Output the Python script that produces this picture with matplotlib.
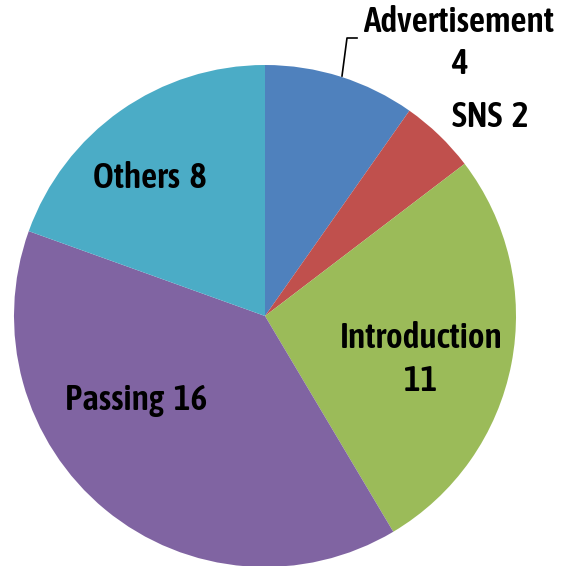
import matplotlib.pyplot as plt
from matplotlib import font_manager

# survey: how did you learn about it
labels = ['Advertisement', 'SNS', 'Introduction', 'Passing', 'Others']
values = [4, 2, 11, 16, 8]
colors = ['#4F81BD', '#C0504D', '#9BBB59', '#8064A2', '#4BACC6']

names = {f.name for f in font_manager.fontManager.ttflist}
if 'Asap Condensed' in names:
    fam, fs = ['Asap Condensed', 'DejaVu Sans'], 25.5
else:
    fam, fs = ['DejaVu Sans'], 17

W, H = 561, 566
fig = plt.figure(figsize=(W / 100, H / 100), dpi=100)
ax = fig.add_axes([0, 0, 1, 1])

cx, cy, r = 265, H - 316, 251
ax.pie(values, colors=colors, startangle=90, counterclock=False,
       center=(cx, cy), radius=r, frame=True,
       wedgeprops=dict(linewidth=0))
ax.set_xlim(0, W)
ax.set_ylim(0, H)
ax.set_aspect('equal')
ax.axis('off')

kw = dict(family=fam, fontsize=fs, fontweight=600, ha='center', va='center')
gap = '  '
# label positions in pixels (x, y from top)
ax.text(459, H - 22, f'{labels[0]}', **kw)
ax.text(459, H - 64, f'{values[0]}', **kw)
ax.text(490, H - 117, f'{labels[1]}{gap}{values[1]}', **kw)
ax.text(421, H - 338, f'{labels[2]}', **kw)
ax.text(421, H - 381, f'{values[2]}', **kw)
ax.text(136, H - 400, f'{labels[3]}{gap}{values[3]}', **kw)
ax.text(150, H - 178, f'{labels[4]}{gap}{values[4]}', **kw)

# leader line for Advertisement
ax.plot([342, 347, 357], [H - 76, H - 38, H - 38], color='black', lw=1.2)

fig.savefig('out.png', dpi=100)
